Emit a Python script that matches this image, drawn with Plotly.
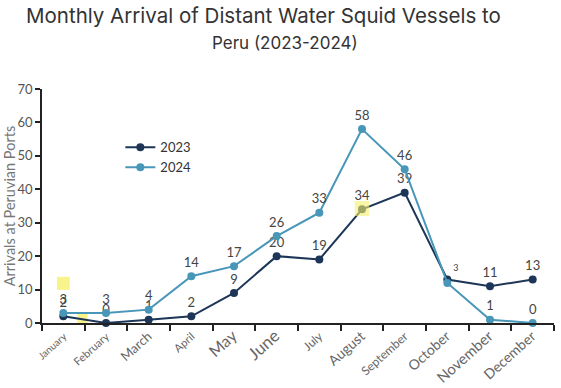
import plotly.graph_objects as go

months = ["January", "February", "March", "April", "May", "June", "July",
          "August", "September", "October", "November", "December"]
tick_sizes = [10, 11, 13, 11, 16, 17, 12, 14, 12, 14, 15, 14]
arr_2023 = [2, 0, 1, 2, 9, 20, 19, 34, 39, 13, 11, 13]
arr_2024 = [3, 3, 4, 14, 17, 26, 33, 58, 46, 12, 1, 0]
lbl_2023 = ["2", "0", "1", "2", "9", "20", "19", "34", "39", "3", "11", "13"]
lbl_2024 = ["3", "3", "4", "14", "17", "26", "33", "58", "46", "", "1", "0"]

C23 = "#1d3658"
C24 = "#4896b8"
LBL = "#444444"
FONT = "Lato, 'Open Sans', sans-serif"
TFONT = "Inter, 'Open Sans', sans-serif"

pos_2023 = ["top center"] * 12
pos_2023[9] = "top right"
size_2023 = [13] * 12
size_2023[9] = 9

fig = go.Figure()
fig.add_trace(go.Scatter(
    x=months, y=arr_2023, name="2023", mode="lines+markers+text",
    line=dict(color=C23, width=2), marker=dict(color=C23, size=8),
    text=lbl_2023, textposition=pos_2023,
    textfont=dict(color=LBL, size=size_2023, family=FONT),
    cliponaxis=False,
))
fig.add_trace(go.Scatter(
    x=months, y=arr_2024, name="2024", mode="lines+markers+text",
    line=dict(color=C24, width=2), marker=dict(color=C24, size=8),
    text=lbl_2024, textposition="top center",
    textfont=dict(color=LBL, size=13, family=FONT),
    cliponaxis=False,
))

# yellow highlight marks seen in the source image
HL = "rgba(247,240,110,0.8)"
fig.add_shape(type="rect", xref="x", yref="y", x0=-0.15, x1=0.15, y0=9.9, y1=13.8,
              fillcolor=HL, line_width=0, layer="below")
fig.add_shape(type="rect", xref="x", yref="y", x0=0.33, x1=0.57, y0=-1.5, y1=3.2,
              fillcolor=HL, line_width=0, layer="below")
fig.add_shape(type="rect", xref="x", yref="y", x0=6.83, x1=7.17, y0=32.0, y1=36.5,
              fillcolor=HL, line_width=0, layer="above", opacity=0.75)

ticktext = [f'<span style="font-size:{s}px">{m}</span>' for m, s in zip(months, tick_sizes)]

fig.update_layout(
    width=561, height=388,
    margin=dict(l=42, r=7, t=89, b=65, autoexpand=False),
    paper_bgcolor="white", plot_bgcolor="white",
    font=dict(family=FONT, color="#555555"),
    showlegend=True,
    legend=dict(x=0.153, y=0.815, xanchor="left", yanchor="top",
                bgcolor="rgba(0,0,0,0)", font=dict(size=13, color="#333333"),
                tracegroupgap=0, itemwidth=30),
    xaxis=dict(
        type="category", range=[-0.5, 11.5], tickmode="array", automargin=False,
        tickvals=months, ticktext=ticktext, tickangle=-42,
        tickson="boundaries", ticks="outside", ticklen=6, tickwidth=1.5,
        tickcolor="#222222", showline=True, linecolor="#222222", linewidth=1.5,
        showgrid=False, zeroline=False,
        tickfont=dict(color="#666666", family=FONT),
    ),
    yaxis=dict(
        range=[0, 70], dtick=10, ticks="outside", ticklen=5, tickwidth=1.5,
        automargin=False,
        tickcolor="#222222", showline=True, linecolor="#222222", linewidth=1.5,
        showgrid=False, zeroline=False,
        tickfont=dict(size=13, color="#555555", family=FONT),
    ),
    annotations=[
        dict(text="Monthly Arrival of Distant Water Squid Vessels to",
             xref="paper", yref="paper", x=0.432, y=1.315, xanchor="center",
             yanchor="middle", showarrow=False,
             font=dict(size=20.5, color="#333333", family=TFONT)),
        dict(text="Peru (2023-2024)",
             xref="paper", yref="paper", x=0.475, y=1.197, xanchor="center",
             yanchor="middle", showarrow=False,
             font=dict(size=17, color="#333333", family=TFONT)),
        dict(text="Arrivals at Peruvian Ports", textangle=-90,
             xref="paper", yref="paper", x=-0.064, y=0.5, xanchor="center",
             yanchor="middle", showarrow=False,
             font=dict(size=14.5, color="#777777", family=FONT)),
    ],
)

fig.write_html("out.html", config={"displayModeBar": False},
               post_script="document.body.style.margin='0';document.body.style.overflow='hidden';")
